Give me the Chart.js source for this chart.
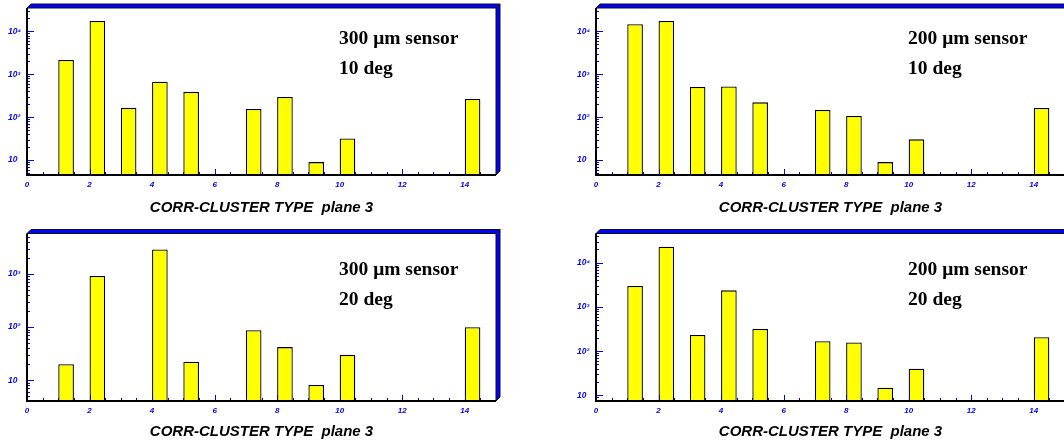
<!DOCTYPE html>
<html>
<head>
<meta charset="utf-8">
<script src="https://cdn.jsdelivr.net/npm/chart.js@4.4.1/dist/chart.umd.min.js"></script>
<style>
  html, body { margin: 0; padding: 0; background: #fff; overflow: hidden; }
  body { width: 1064px; height: 447px; position: relative; }
  canvas { position: absolute; }
</style>
</head>
<body>
<canvas id="c300_10" width="532" height="220" style="left:0px;top:0px"></canvas>
<canvas id="c200_10" width="532" height="220" style="left:569px;top:0px"></canvas>
<canvas id="c300_20" width="532" height="222" style="left:0px;top:225px"></canvas>
<canvas id="c200_20" width="532" height="222" style="left:569px;top:225px"></canvas>
<script>
// cluster type bins (1..14); null = empty bin
const bins = [1, 2, 3, 4, 5, 6, 7, 8, 9, 10, 11, 12, 13, 14];
const counts300deg10 = [2150, 17500, 165, 670, 390, null, 155, 295, 9, 32, null, null, null, 265];
const counts200deg10 = [14700, 17500, 505, 520, 222, null, 147, 107, 9, 30.5, null, null, null, 164];
const counts300deg20 = [20, 920, null, 2900, 22.3, null, 87, 42, 8.1, 30, null, null, null, 99];
const counts200deg20 = [2980, 23000, 232, 2380, 317, null, 167, 158, 14.9, 40, null, null, null, 206];

const xTickValues = [0, 2, 4, 6, 8, 10, 12, 14];
const yTickValues = [10, 100, 1000, 10000];
const yTickLabels = ['10', '10²', '10³', '10⁴'];
const xTitle = 'CORR-CLUSTER TYPE  plane 3';

const BLUE = '#0000ff';
const BAR_SHIFT = 0.25;   // bars start at the lower bin edge, half a unit wide

function line(ctx, x1, y1, x2, y2) {
  ctx.beginPath();
  ctx.moveTo(x1, y1);
  ctx.lineTo(x2, y2);
  ctx.stroke();
}

function poly(ctx, pts) {
  ctx.beginPath();
  ctx.moveTo(pts[0][0], pts[0][1]);
  for (let i = 1; i < pts.length; i++) ctx.lineTo(pts[i][0], pts[i][1]);
  ctx.closePath();
  ctx.fill();
  ctx.stroke();
}

// inward ticks, 3D frame and the sensor/angle text
const rootFrame = {
  id: 'rootFrame',
  afterDatasetsDraw(chart, args, opts) {
    const ctx = chart.ctx;
    const { left, right, top, bottom } = chart.chartArea;
    const xs = chart.scales.x, ys = chart.scales.y;
    ctx.save();
    ctx.strokeStyle = BLUE;
    ctx.lineWidth = 1;
    for (let v = xs.min; v < xs.max; v += 0.5) {
      const px = Math.round(xs.getPixelForValue(v)) + 0.5;
      line(ctx, px, bottom, px, bottom - (v % 2 === 0 ? 6 : 3));
    }
    const d0 = Math.floor(Math.log10(ys.min)), d1 = Math.ceil(Math.log10(ys.max));
    for (let d = d0; d <= d1; d++) {
      for (let m = 1; m <= 9; m++) {
        const v = m * Math.pow(10, d);
        if (v < ys.min || v > ys.max) continue;
        const py = Math.round(ys.getPixelForValue(v)) + 0.5;
        line(ctx, left, py, left + (m === 1 ? 7 : 3), py);
      }
    }

    ctx.strokeStyle = '#000';
    ctx.lineWidth = 2;
    line(ctx, left, top, left, bottom);
    line(ctx, left - 1, bottom, right, bottom);

    const d = 4;
    ctx.fillStyle = BLUE;
    ctx.strokeStyle = '#111';
    ctx.lineWidth = 1;
    poly(ctx, [[left, top], [left + d, top - d], [right + d, top - d], [right, top]]);
    poly(ctx, [[right, top], [right + d, top - d], [right + d, bottom - d], [right, bottom]]);

    ctx.fillStyle = '#000';
    ctx.font = 'bold 19.5px "Liberation Serif"';
    ctx.textBaseline = 'middle';
    ctx.textAlign = 'left';
    opts.lines.forEach(l => ctx.fillText(l.text, left + opts.dx, top + l.dy));
    ctx.restore();
  }
};

const tickFont = size => ({ family: 'Liberation Sans', size: size, style: 'italic', weight: 'bold' });

function makeChart(id, counts, sensor, angle, pad, xHeight, textDy) {
  const filled = bins.map((b, i) => ({ x: b + BAR_SHIFT, y: counts[i] })).filter(p => p.y != null);
  const vals = counts.filter(v => v != null);
  new Chart(document.getElementById(id), {
    type: 'bar',
    data: {
      datasets: [{
        data: filled,
        backgroundColor: '#ffff00',
        borderColor: '#000',
        borderWidth: 1.3,
        barPercentage: 1,
        categoryPercentage: 0.5,
        borderSkipped: 'start'
      }]
    },
    options: {
      responsive: false,
      animation: false,
      devicePixelRatio: 1,
      layout: { padding: pad },
      plugins: {
        legend: { display: false },
        tooltip: { enabled: false },
        rootFrame: {
          dx: 312,
          lines: [{ text: sensor, dy: textDy[0] }, { text: angle, dy: textDy[1] }]
        }
      },
      scales: {
        x: {
          type: 'linear',
          min: 0,
          max: 15,
          offset: false,
          grid: { display: false },
          border: { display: false },
          afterBuildTicks: s => { s.ticks = xTickValues.map(v => ({ value: v })); },
          afterFit: s => { s.height = xHeight; },
          ticks: {
            color: BLUE, font: tickFont(8), padding: -3,
            maxRotation: 0, autoSkip: false,
            callback: v => String(v)
          },
          title: {
            display: true, text: xTitle, color: '#000',
            font: { family: 'Liberation Sans', size: 15, style: 'italic', weight: 'bold' },
            padding: 0
          }
        },
        y: {
          type: 'logarithmic',
          // log histogram range: half the smallest to twice the largest content
          min: 0.5 * Math.min(...vals),
          max: 2 * Math.max(...vals),
          grid: { display: false },
          border: { display: false },
          afterBuildTicks: s => {
            s.ticks = yTickValues.filter(v => v >= s.min && v <= s.max).map(v => ({ value: v }));
          },
          afterFit: s => { s.width = 19; },
          ticks: {
            color: BLUE, font: tickFont(8.5), padding: 0,
            crossAlign: 'far', autoSkip: false,
            callback: v => yTickLabels[yTickValues.indexOf(v)]
          }
        }
      }
    },
    plugins: [rootFrame]
  });
}

const padTop = { left: 8, top: 8, right: 36, bottom: 3 };
const padBottom = { left: 8, top: 8.5, right: 36, bottom: 6 };

makeChart('c300_10', counts300deg10, '300 μm sensor', '10 deg', padTop, 42, [31, 61]);
makeChart('c200_10', counts200deg10, '200 μm sensor', '10 deg', padTop, 42, [31, 61]);
makeChart('c300_20', counts300deg20, '300 μm sensor', '20 deg', padBottom, 40, [36, 66.5]);
makeChart('c200_20', counts200deg20, '200 μm sensor', '20 deg', padBottom, 40, [36, 66.5]);
</script>
</body>
</html>
